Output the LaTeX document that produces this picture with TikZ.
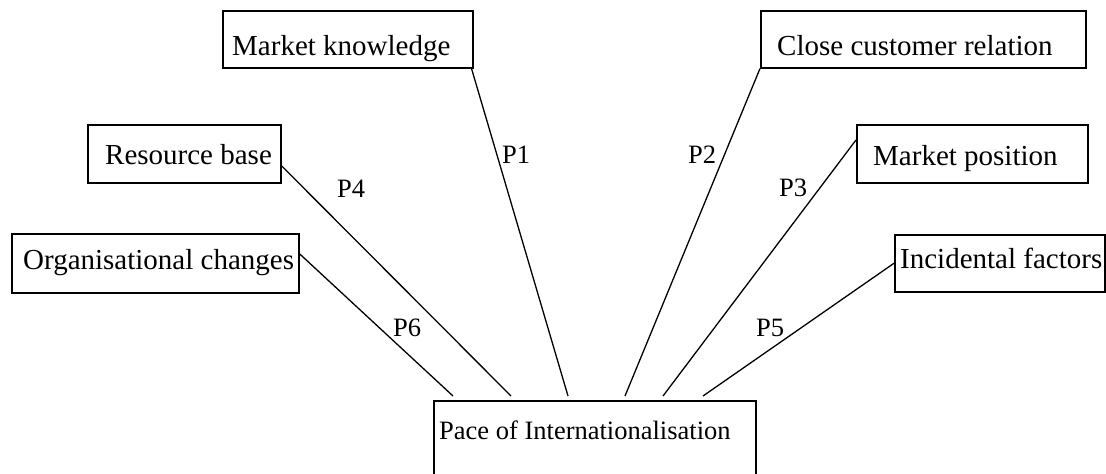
\documentclass[tikz,border=0pt]{standalone}
\usepackage{fontspec}
\setmainfont{Liberation Serif}
\begin{document}
\begin{tikzpicture}[x=1pt,y=-1pt,
  box/.style={draw,line width=1.5pt,inner sep=0pt,anchor=north west},
  lbl/.style={anchor=base west,inner sep=0pt,font=\fontsize{29}{34}\selectfont},
  plbl/.style={anchor=base west,inner sep=0pt,font=\fontsize{26.5}{30}\selectfont},
  conn/.style={line width=1.3pt}]
\useasboundingbox (0,0) rectangle (1106,474);
% boxes
\node[box,minimum width=287pt,minimum height=59pt] (org) at (11,233) {};
\node[lbl] (orgt) at (23,269) {Organisational changes};
\node[box,minimum width=193pt,minimum height=58pt] (res) at (87,124) {};
\node[lbl] (rest) at (105,164) {Resource base};
\node[box,minimum width=250pt,minimum height=57pt] (mk) at (222,10) {};
\node[lbl] (mkt) at (232,55) {Market knowledge};
\node[box,minimum width=325pt,minimum height=57pt] (ccr) at (760,10) {};
\node[lbl] (ccrt) at (777,55) {Close customer relation};
\node[box,minimum width=231pt,minimum height=58pt] (mp) at (856,124) {};
\node[lbl] (mpt) at (873,165) {Market position};
\node[box,minimum width=210pt,minimum height=57pt] (inc) at (894,234) {};
\node[lbl] (inct) at (900,268) {Incidental factors};
\node[box,minimum width=322pt,minimum height=100pt] (pace) at (433,400) {};
\node[plbl] (pacet) at (439,439) {Pace of Internationalisation};
% connectors
\draw[conn] ([yshift=9.5pt]org.east) -- ([xshift=20pt,yshift=4pt]pace.north west);
\draw[conn] ([yshift=-12pt]res.east) -- ([xshift=78pt,yshift=4pt]pace.north west);
\draw[conn] ([xshift=-2pt]mk.south east) -- ([xshift=135pt,yshift=4pt]pace.north west);
\draw[conn] (ccr.south west) -- ([xshift=192pt,yshift=4pt]pace.north west);
\draw[conn] ([yshift=-16pt]mp.north west) -- ([xshift=230pt,yshift=4pt]pace.north west);
\draw[conn] (inc.west) -- ([xshift=270pt,yshift=4pt]pace.north west);
% labels
\node[plbl] (p1) at (502,163) {P1};
\node[plbl] (p2) at (688,163) {P2};
\node[plbl] (p3) at (779,196) {P3};
\node[plbl] (p4) at (337,197) {P4};
\node[plbl] (p5) at (756,336) {P5};
\node[plbl] (p6) at (393,336) {P6};
\end{tikzpicture}
\end{document}
